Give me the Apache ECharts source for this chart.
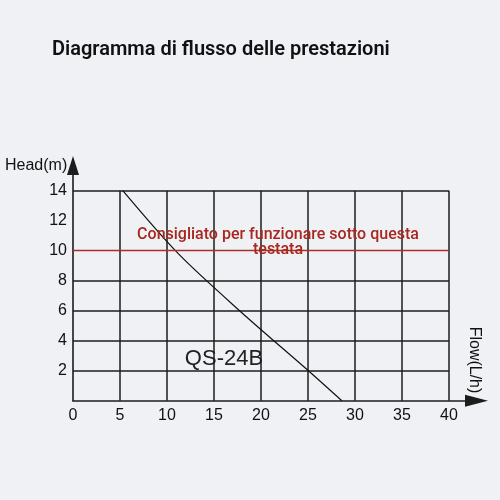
<!DOCTYPE html>
<html>
<head>
<meta charset="utf-8">
<script src="https://cdn.jsdelivr.net/npm/echarts@6/dist/echarts.min.js"></script>
<style>
html,body{margin:0;padding:0;background:#eff1f4;}
#chart{width:500px;height:500px;}
</style>
</head>
<body>
<div id="chart"></div>
<script>
// ---- data ----
var titleText = 'Diagramma di flusso delle prestazioni';
var flowValues = [5.3, 11.2, 17.9, 25.4, 28.6];   // Flow (L/h)
var headValues = [14, 9.8, 5.9, 1.8, 0];         // Head (m)
var recommendedHead = 10;
var recommendedText = 'Consigliato per funzionare sotto questa\ntestata';
var modelName = 'QS-24B';
var xTicks = [0, 5, 10, 15, 20, 25, 30, 35, 40];
var yTicks = [0, 2, 4, 6, 8, 10, 12, 14];
var xAxisName = 'Flow(L/h)';
var yAxisName = 'Head(m)';

var curve = flowValues.map(function (f, i) { return [f, headValues[i]]; });

var gridColor = '#1c1c1c';
var redColor = '#a8302a';
// split line colours per y tick: hide at 0 (axis), 10 (red line), 12 (no line in original)
var ySplitColors = yTicks.map(function (v) {
  if (v === 0 || v === recommendedHead || v === 12) return 'rgba(0,0,0,0)';
  return gridColor;
});
var xSplitColors = xTicks.map(function (v) { return v === 0 ? 'rgba(0,0,0,0)' : gridColor; });

var chart = echarts.init(document.getElementById('chart'), null, {renderer: 'canvas'});
chart.setOption({
  backgroundColor: '#eff1f4',
  animation: false,
  grid: [
    {left: 73, right: 51, top: 190.7, bottom: 99.3, containLabel: false, outerBoundsMode: 'none'},
    {left: 73, right: 35, top: 175, bottom: 99.3, containLabel: false, outerBoundsMode: 'none'}
  ],
  xAxis: [
    {
      type: 'value', gridIndex: 0, min: xTicks[0], max: xTicks[xTicks.length - 1], interval: 5,
      axisLine: {show: false}, axisTick: {show: false},
      axisLabel: {show: true, fontSize: 16, color: '#111', margin: 7, fontFamily: 'Liberation Sans'},
      splitLine: {show: true, lineStyle: {color: xSplitColors, width: 1.5}}
    },
    {
      type: 'value', gridIndex: 1, min: 0, max: 1,
      axisLine: {show: true, symbol: ['none', 'triangle'], symbolSize: [12, 23], symbolOffset: [0, 11.5],
        lineStyle: {color: gridColor, width: 1.6}},
      axisTick: {show: false}, axisLabel: {show: false}, splitLine: {show: false}
    }
  ],
  yAxis: [
    {
      type: 'value', gridIndex: 0, min: yTicks[0], max: yTicks[yTicks.length - 1], interval: 2,
      axisLine: {show: false}, axisTick: {show: false},
      axisLabel: {show: true, showMinLabel: false, fontSize: 16, color: '#111', margin: 6, fontFamily: 'Liberation Sans'},
      splitLine: {show: true, lineStyle: {color: ySplitColors, width: 1.5}}
    },
    {
      type: 'value', gridIndex: 1, min: 0, max: 1,
      axisLine: {show: true, symbol: ['none', 'triangle'], symbolSize: [12, 19], symbolOffset: [0, 9.5],
        lineStyle: {color: gridColor, width: 1.6}},
      axisTick: {show: false}, axisLabel: {show: false}, splitLine: {show: false}
    }
  ],
  series: [
    {
      type: 'line', xAxisIndex: 0, yAxisIndex: 0,
      data: curve, symbol: 'none', smooth: 0.3,
      lineStyle: {color: '#111', width: 1.2},
      markLine: {
        silent: true, symbol: 'none', label: {show: false},
        lineStyle: {color: redColor, width: 1.4, type: 'solid'},
        data: [{yAxis: recommendedHead}]
      }
    }
  ],
  graphic: [
    {type: 'text', x: 52, y: 50, style: {text: titleText, font: '600 20px Roboto', fill: '#111', textVerticalAlign: 'middle'}},
    {type: 'text', x: 5, y: 166, style: {text: yAxisName, font: '16px "Liberation Sans"', fill: '#111', textVerticalAlign: 'middle'}},
    {type: 'text', x: 474, y: 360, rotation: -Math.PI / 2, style: {text: xAxisName, font: '16px "Liberation Sans"', fill: '#111', textAlign: 'center', textVerticalAlign: 'middle'}},
    {type: 'text', x: 224, y: 359, style: {text: modelName, font: '22px "Liberation Sans"', fill: '#222', textAlign: 'center', textVerticalAlign: 'middle'}},
    {type: 'text', x: 278, y: 242, z: 10, style: {text: recommendedText, font: '500 16px Roboto', lineHeight: 15, fill: '#a8271f', textAlign: 'center', textVerticalAlign: 'middle'}}
  ]
});
</script>
</body>
</html>
